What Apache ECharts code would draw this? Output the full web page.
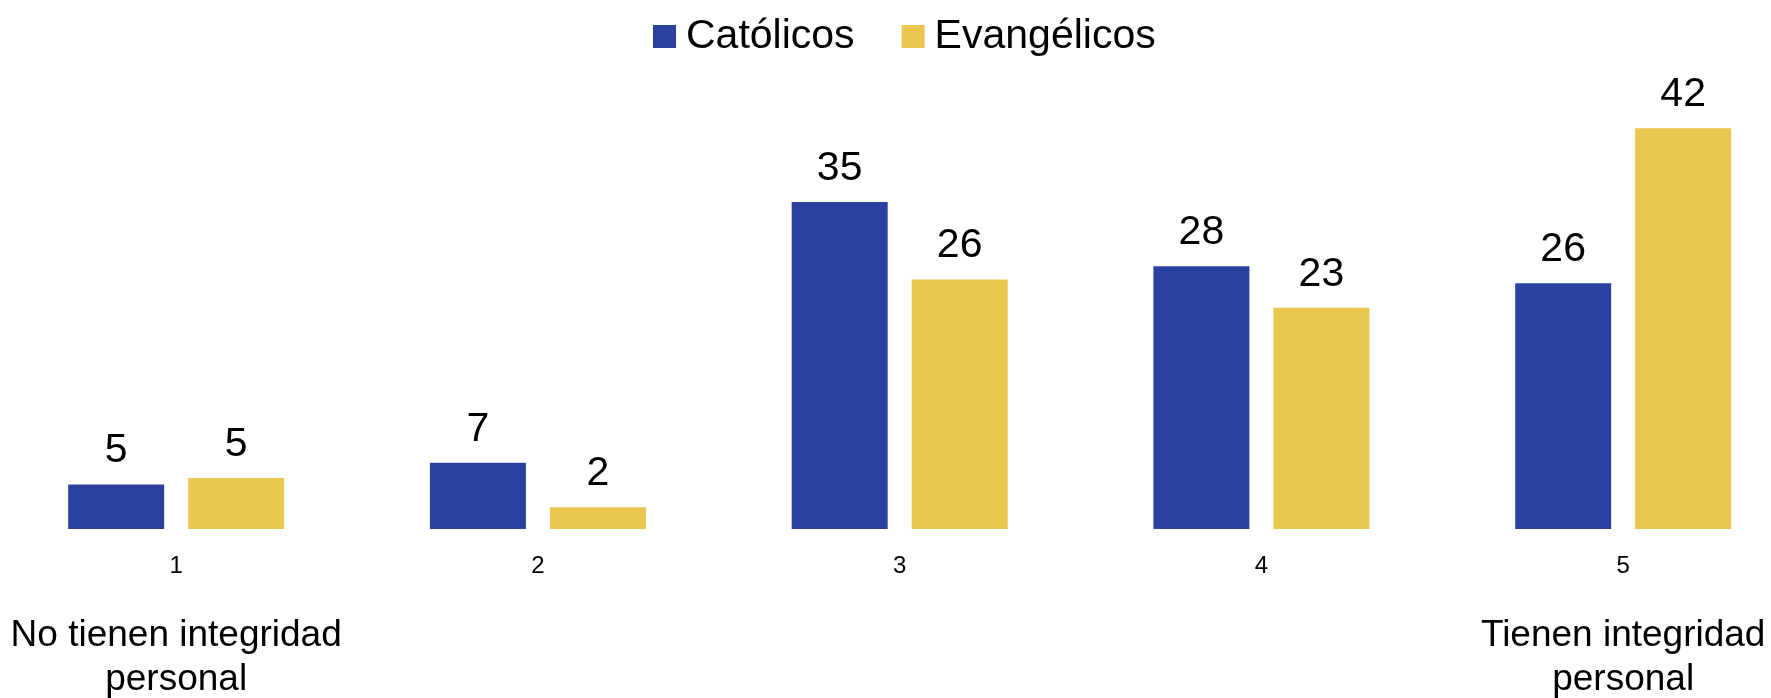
<!DOCTYPE html>
<html>
<head>
<meta charset="utf-8">
<script src="https://cdn.jsdelivr.net/npm/echarts@6/dist/echarts.min.js"></script>
<style>
html,body{margin:0;padding:0;background:#fff;}
#chart{width:1771px;height:698px;}
</style>
</head>
<body>
<div id="chart"></div>
<script>
// ---- data ----
const categories = ['1', '2', '3', '4', '5'];
const scaleCaptions = ['No tienen integridad\npersonal', '', '', '', 'Tienen integridad\npersonal'];
const seriesNames = ['Católicos', 'Evangélicos'];
const catolicos = [4.7, 7.0, 34.6, 27.8, 26.0];
const evangelicos = [5.4, 2.3, 26.4, 23.4, 42.4];

const FONT = '"Liberation Sans", Arial, sans-serif';
const BLUE = '#2A41A0';
const YELLOW = '#E9C74E';

const chart = echarts.init(document.getElementById('chart'), null, {renderer: 'canvas'});

function barSeries(name, values, color) {
  return {
    name: name,
    type: 'bar',
    xAxisIndex: 0,
    data: values,
    barWidth: 96,
    barGap: '25%',
    itemStyle: {color: color},
    label: {
      show: true,
      position: 'top',
      distance: 13,
      fontFamily: FONT,
      fontSize: 41,
      color: '#000',
      formatter: p => Math.round(p.value)
    }
  };
}

chart.setOption({
  backgroundColor: '#fff',
  animation: false,
  legend: {
    top: 11,
    left: 648,
    itemWidth: 23,
    itemHeight: 23,
    itemGap: 47,
    icon: 'rect',
    data: seriesNames,
    textStyle: {fontFamily: FONT, fontSize: 41, color: '#000', padding: [0, 0, 0, 5]}
  },
  grid: {left: -4.7, width: 1808.75, top: 56.5, height: 472.5, containLabel: false, outerBoundsMode: 'none'},
  xAxis: [
    {
      type: 'category',
      data: categories,
      position: 'bottom',
      axisLine: {show: false},
      axisTick: {show: false},
      axisLabel: {margin: 25, fontFamily: FONT, fontSize: 24, color: '#000', interval: 0}
    },
    {
      type: 'category',
      data: scaleCaptions,
      position: 'bottom',
      gridIndex: 0,
      axisLine: {show: false},
      axisTick: {show: false},
      axisLabel: {margin: 85, fontFamily: FONT, fontSize: 37, lineHeight: 44, color: '#000', interval: 0}
    }
  ],
  yAxis: {
    type: 'value',
    min: 0,
    max: 50,
    show: false,
    splitLine: {show: false}
  },
  series: [
    barSeries(seriesNames[0], catolicos, BLUE),
    barSeries(seriesNames[1], evangelicos, YELLOW)
  ]
});
</script>
</body>
</html>
